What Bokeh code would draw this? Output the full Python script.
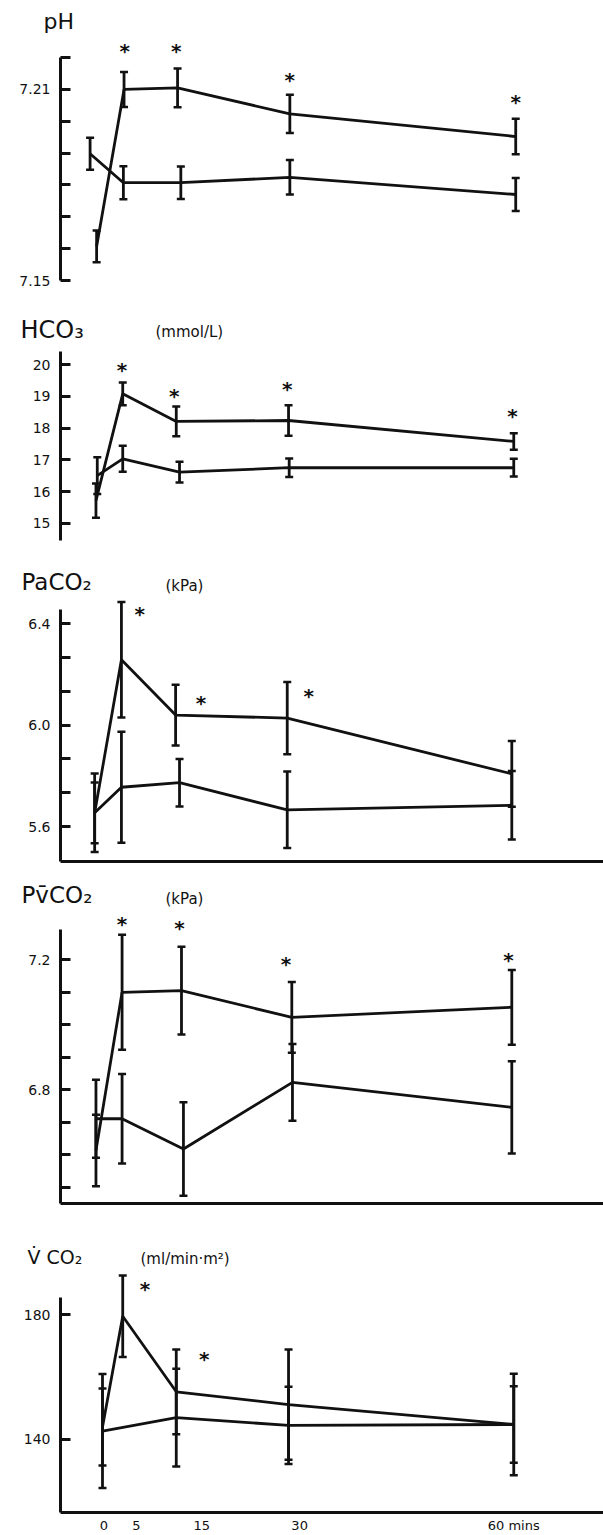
from bokeh.plotting import figure
from bokeh.models import (Range1d, LinearAxis, FixedTicker, Whisker, TeeHead,
                          ColumnDataSource)
from bokeh.layouts import column
from bokeh.embed import file_html
from bokeh.resources import INLINE
from bokeh.core.properties import value

FONT = "DejaVu Sans"
INK = "#111111"

# ---------------- data (time in minutes) ----------------
time_ticks = [0, 5, 15, 30, 62.8]
time_labels = ["0", "5", "15", "30", "60 mins"]

# pH
ph_t_a = [-1.1, 3.1, 11.3, 28.5, 63.1]
ph_a = [7.1607, 7.2100, 7.2105, 7.2023, 7.1952]
ph_err_a = [0.0050, 0.0055, 0.0061, 0.0060, 0.0056]
ph_t_b = [-2.1, 3.0, 11.8, 28.5, 63.1]
ph_b = [7.1898, 7.1807, 7.1807, 7.1824, 7.1770]
ph_err_b = [0.0050, 0.0052, 0.0051, 0.0054, 0.0052]
ph_star_t = [3.2, 11.1, 28.5, 63.1]
ph_star_y = [7.2222, 7.2220, 7.2128, 7.2059]
ph_ticks = [7.15, 7.21]
ph_tick_labels = ["7.15", "7.21"]
ph_minor = [7.16, 7.17, 7.18, 7.19, 7.20, 7.22]

# HCO3
hco3_t_a = [-1.2, 2.9, 11.1, 28.3, 62.8]
hco3_a = [15.71, 19.08, 18.21, 18.24, 17.58]
hco3_err_a = [0.54, 0.36, 0.47, 0.48, 0.26]
hco3_t_b = [-1.0, 2.9, 11.6, 28.4, 62.8]
hco3_b = [16.50, 17.03, 16.61, 16.75, 16.75]
hco3_err_b = [0.58, 0.41, 0.33, 0.29, 0.28]
hco3_star_t = [2.8, 10.8, 28.1, 62.6]
hco3_star_y = [19.84, 19.00, 19.24, 18.37]
hco3_ticks = [15, 16, 17, 18, 19, 20]
hco3_tick_labels = ["15", "16", "17", "18", "19", "20"]
hco3_minor = []

# PaCO2
paco2_t_a = [-1.4, 2.7, 11.0, 28.1, 62.5]
paco2_a = [5.654, 6.258, 6.040, 6.028, 5.808]
paco2_err_a = [0.120, 0.228, 0.120, 0.143, 0.130]
paco2_t_b = [-1.4, 2.7, 11.6, 28.1, 62.5]
paco2_b = [5.654, 5.755, 5.773, 5.666, 5.684]
paco2_err_b = [0.155, 0.219, 0.094, 0.151, 0.135]
paco2_star_t = [5.5, 14.9, 31.4]
paco2_star_y = [6.440, 6.088, 6.117]
paco2_ticks = [5.6, 6.0, 6.4]
paco2_tick_labels = ["5.6", "6.0", "6.4"]
paco2_minor = [5.7333, 5.8667, 6.1333, 6.2667]

# PvCO2
pvco2_t_a = [-1.2, 2.8, 11.9, 28.8, 62.5]
pvco2_a = [6.613, 7.100, 7.105, 7.023, 7.054]
pvco2_err_a = [0.110, 0.177, 0.135, 0.109, 0.115]
pvco2_t_b = [-1.2, 2.8, 12.2, 28.9, 62.5]
pvco2_b = [6.711, 6.711, 6.618, 6.823, 6.746]
pvco2_err_b = [0.120, 0.138, 0.144, 0.118, 0.142]
pvco2_star_t = [2.8, 11.6, 27.9, 62.0]
pvco2_star_y = [7.311, 7.297, 7.188, 7.200]
pvco2_ticks = [6.8, 7.2]
pvco2_tick_labels = ["6.8", "7.2"]
pvco2_minor = [6.5, 6.6, 6.7, 6.9, 7.0, 7.1]

# VCO2 (lower series has no 5-min point)
vco2_t_a = [-0.2, 2.9, 11.1, 28.3, 62.8]
vco2_a = [143.9, 179.5, 155.2, 151.1, 144.7]
vco2_err_a = [12.4, 13.1, 13.6, 17.7, 16.3]
vco2_t_b = [-0.2, 11.1, 28.3, 62.8]
vco2_b = [142.6, 146.9, 144.4, 144.7]
vco2_err_b = [18.3, 15.7, 12.4, 12.3]
vco2_star_t = [6.3, 15.4]
vco2_star_y = [188.4, 165.8]
vco2_ticks = [140, 180]
vco2_tick_labels = ["140", "180"]
vco2_minor = []

# ---------------- layout (page-pixel geometry) ----------------
X_REF0 = 103.3   # pixel of t = 0 on the time scale
X_PPU = 6.528    # pixels per minute
W = 603
DROP = 0.35      # renderer places the baseline this many em below the anchor


def xr(px):
    return (px - X_REF0) / X_PPU


GEOM = {
    "ph":    dict(top=37,   bot=300,  anchor=280.0,  val=7.15, ppu=3185.0, bb=0),
    "hco3":  dict(top=345,  bot=560,  anchor=522.7,  val=15.0, ppu=31.7,   bb=0),
    "paco2": dict(top=597,  bot=861,  anchor=724.7,  val=6.0,  ppu=253.3,  bb=5),
    "pvco2": dict(top=909,  bot=1203, anchor=959.3,  val=7.2,  ppu=325.0,  bb=5),
    "vco2":  dict(top=1269, bot=1515, anchor=1440.7, val=140., ppu=3.15,   bb=20),
}


def yr(g, py):
    return g["val"] + (g["anchor"] - py) / g["ppu"]


def header(top, bot, texts):
    h = figure(width=W, height=bot - top, x_range=Range1d(0, W), y_range=Range1d(bot, top),
               x_axis_type=None, y_axis_type=None, output_backend="svg",
               toolbar_location=None, min_border=0, min_border_left=0,
               min_border_right=0, min_border_top=0, min_border_bottom=0,
               frame_align=False, outline_line_color=None,
               background_fill_color="white", border_fill_color="white")
    for txt, px, py, size in texts:
        h.text(x=[px], y=[py - DROP * size], text=[txt], text_font=value(FONT),
               text_font_size=f"{size}px", text_color=INK,
               text_align="left", text_baseline="alphabetic")
    return h


def build(key, series, star_t, star_y, ticks, tick_labels, minor, axis_top,
          axis_bottom=None, xaxis=None):
    g = GEOM[key]
    vtop = yr(g, g["top"])
    vbot = yr(g, g["bot"])
    p = figure(width=W, height=g["bot"] - g["top"] + g["bb"],
               x_range=Range1d(xr(60), xr(W)), y_range=Range1d(vbot, vtop),
               x_axis_type=None, y_axis_type=None,
               output_backend="svg", toolbar_location=None,
               min_border_left=60, min_border_right=0, min_border_top=0,
               min_border_bottom=g["bb"], frame_align=False, outline_line_color=None,
               background_fill_color="white", border_fill_color="white")

    yax = LinearAxis(
        ticker=FixedTicker(ticks=ticks, minor_ticks=minor),
        bounds=(axis_bottom if axis_bottom is not None else vbot, axis_top),
        axis_line_width=3, axis_line_color=INK,
        major_tick_in=10, major_tick_out=0, minor_tick_in=10, minor_tick_out=0,
        major_tick_line_width=3, minor_tick_line_width=3,
        major_tick_line_color=INK, minor_tick_line_color=INK,
        major_label_standoff=10, major_label_text_font=FONT,
        major_label_text_font_size="14px", major_label_text_color=INK,
        major_label_overrides=dict(zip(ticks, tick_labels)))
    p.add_layout(yax, "left")

    if xaxis == "line":
        xax = LinearAxis(ticker=FixedTicker(ticks=[]), axis_line_width=3,
                         axis_line_color=INK, major_tick_in=0, major_tick_out=0,
                         minor_tick_in=0, minor_tick_out=0, major_label_standoff=0)
        p.add_layout(xax, "below")
    elif xaxis == "time":
        xax = LinearAxis(ticker=FixedTicker(ticks=time_ticks), axis_line_width=3,
                         axis_line_color=INK, major_tick_in=0, major_tick_out=0,
                         minor_tick_in=0, minor_tick_out=0, major_label_standoff=5,
                         major_label_text_font=FONT, major_label_text_font_size="13px",
                         major_label_text_color=INK,
                         major_label_overrides=dict(zip(time_ticks, time_labels)))
        p.add_layout(xax, "below")

    for t, m, e in series:
        p.line(t, m, line_width=2.8, line_color=INK)
        src = ColumnDataSource(dict(x=t, lower=[a - b for a, b in zip(m, e)],
                                    upper=[a + b for a, b in zip(m, e)]))
        w = Whisker(base="x", lower="lower", upper="upper", source=src,
                    line_width=2.8, line_color=INK,
                    upper_head=TeeHead(size=8, line_width=2.5, line_color=INK),
                    lower_head=TeeHead(size=8, line_width=2.5, line_color=INK))
        p.add_layout(w)

    p.text(x=star_t, y=star_y, text=["*"] * len(star_t), text_font=value(FONT),
           text_font_style="bold", text_font_size="20px", text_align="center",
           text_baseline="alphabetic", y_offset=0, text_color=INK)
    return p


h1 = header(0, 37, [("pH", 43, 29, 22)])
p1 = build("ph", [(ph_t_a, ph_a, ph_err_a), (ph_t_b, ph_b, ph_err_b)],
           ph_star_t, ph_star_y, ph_ticks, ph_tick_labels, ph_minor,
           axis_top=7.22, axis_bottom=7.15)
h2 = header(300, 345, [("HCO\u2083", 20, 338, 24), ("(mmol/L)", 155, 337, 15)])
p2 = build("hco3", [(hco3_t_a, hco3_a, hco3_err_a), (hco3_t_b, hco3_b, hco3_err_b)],
           hco3_star_t, hco3_star_y, hco3_ticks, hco3_tick_labels, hco3_minor,
           axis_top=20.42, axis_bottom=14.45)
h3 = header(560, 597, [("PaCO\u2082", 21, 590, 23), ("(kPa)", 165, 591, 15)])
p3 = build("paco2", [(paco2_t_a, paco2_a, paco2_err_a), (paco2_t_b, paco2_b, paco2_err_b)],
           paco2_star_t, paco2_star_y, paco2_ticks, paco2_tick_labels, paco2_minor,
           axis_top=6.455, xaxis="line")
h4 = header(866, 909, [("Pv\u0304CO\u2082", 21, 903, 23), ("(kPa)", 165, 904, 15)])
p4 = build("pvco2", [(pvco2_t_a, pvco2_a, pvco2_err_a), (pvco2_t_b, pvco2_b, pvco2_err_b)],
           pvco2_star_t, pvco2_star_y, pvco2_ticks, pvco2_tick_labels, pvco2_minor,
           axis_top=7.292, xaxis="line")
h5 = header(1208, 1269, [("V\u0307 CO\u2082", 27, 1263, 19),
                         ("(ml/min\u00b7m\u00b2)", 140, 1264, 15)])
p5 = build("vco2", [(vco2_t_a, vco2_a, vco2_err_a), (vco2_t_b, vco2_b, vco2_err_b)],
           vco2_star_t, vco2_star_y, vco2_ticks, vco2_tick_labels, vco2_minor,
           axis_top=185.4, xaxis="time")

layout = column(h1, p1, h2, p2, h3, p3, h4, p4, h5, p5)
open("out.html", "w").write(file_html(layout, INLINE))
